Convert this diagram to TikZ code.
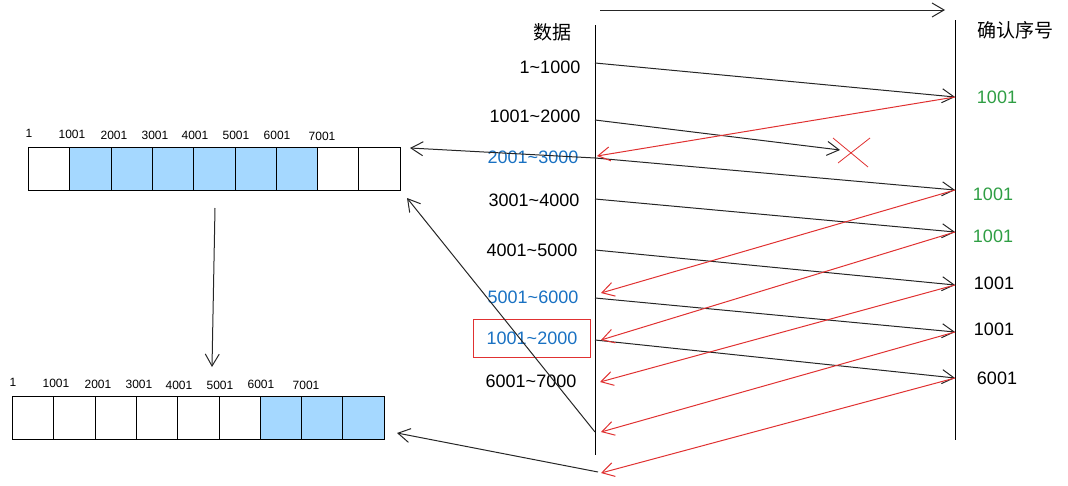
\documentclass[tikz,border=0pt]{standalone}
\usepackage{fontspec}
\setmainfont{Liberation Sans}
\newfontfamily\cjk{Noto Sans CJK SC}
\usetikzlibrary{arrows.meta}
\definecolor{cblue}{HTML}{A5D8FF}
\definecolor{tblue}{HTML}{1971C2}
\definecolor{tgreen}{HTML}{2F9E44}
\definecolor{tred}{HTML}{E03131}
\begin{document}
\begin{tikzpicture}[x=1pt,y=-1pt,
 ar/.style={-{Straight Barb[length=12pt,width=14pt]},line width=1pt,black!85},
 rar/.style={-{Straight Barb[length=12pt,width=14pt]},line width=1pt,tred},
 lab/.style={font=\fontsize{18}{18}\selectfont,anchor=center},
 small/.style={font=\fontsize{12}{12}\selectfont},
 cell/.style={draw,line width=1pt,minimum width=41.3pt,minimum height=43pt,inner sep=0,anchor=north west}]
\useasboundingbox (0,0) rectangle (1068,485);
% axes
\coordinate (La) at (595,25); \coordinate (Lb) at (595,455);
\coordinate (Ra) at (955,20); \coordinate (Rb) at (955,440);
\draw[line width=1pt] (La)--(Lb); \draw[line width=1pt] (Ra)--(Rb);
\coordinate (T1) at (600,10); \coordinate (T2) at (945,10);
\draw[ar] (T1)--(T2);
\node[lab,font=\cjk\fontsize{19}{19}\selectfont] (h1) at (552,32) {数据};
\node[lab,font=\cjk\fontsize{19}{19}\selectfont] (h2) at (1015,30) {确认序号};
% left labels
\node[lab] (d1) at (550,67) {1\textasciitilde1000};
\node[lab] (d2) at (535,116) {1001\textasciitilde2000};
\node[lab,text=tblue] (d3) at (533,157) {2001\textasciitilde3000};
\node[lab] (d4) at (534,200) {3001\textasciitilde4000};
\node[lab] (d5) at (532,250) {4001\textasciitilde5000};
\node[lab,text=tblue] (d6) at (533,297) {5001\textasciitilde6000};
\node[lab,text=tblue,draw=tred,line width=0.8pt,minimum width=117pt,minimum height=38pt] (d7) at (532,338) {1001\textasciitilde2000};
\node[lab] (d8) at (531,381) {6001\textasciitilde7000};
% right labels
\node[lab,text=tgreen] (a1) at (997,97) {1001};
\node[lab,text=tgreen] (a2) at (993,194) {1001};
\node[lab,text=tgreen] (a3) at (993,236) {1001};
\node[lab] (a4) at (994,283) {1001};
\node[lab] (a5) at (994,329) {1001};
\node[lab] (a6) at (997,378) {6001};
% points
\coordinate (s1) at (595,63); \coordinate (r1) at (955,97);
\coordinate (s2) at (595,120); \coordinate (x2) at (840,150);
\coordinate (s3) at (595,158); \coordinate (r3) at (955,190);
\coordinate (s4) at (595,199); \coordinate (r4) at (955,232);
\coordinate (s5) at (595,250); \coordinate (r5) at (955,285);
\coordinate (s6) at (595,298); \coordinate (r6) at (955,332);
\coordinate (s7) at (595,340); \coordinate (r7) at (955,378);
\draw[ar] (s1)--(r1); \draw[ar] (s2)--(x2); \draw[ar] (s3)--(r3);
\draw[ar] (s4)--(r4); \draw[ar] (s5)--(r5); \draw[ar] (s6)--(r6); \draw[ar] (s7)--(r7);
\coordinate (xa) at (833,138); \coordinate (xb) at (868,167);
\coordinate (xc) at (870,138); \coordinate (xd) at (838,163);
\draw[tred,line width=0.8pt] (xa)--(xb) (xc)--(xd);
\coordinate (k1) at (597,156); \coordinate (k2) at (601,293);
\coordinate (k3) at (601,340); \coordinate (k4) at (600,382);
\coordinate (k5) at (601,432); \coordinate (k6) at (601,473);
\draw[rar] (r1)--(k1); \draw[rar] (r3)--(k2); \draw[rar] (r4)--(k3);
\draw[rar] (r5)--(k4); \draw[rar] (r6)--(k5); \draw[rar] (r7)--(k6);
% arrays
\foreach \i/\f in {0/white,1/cblue,2/cblue,3/cblue,4/cblue,5/cblue,6/cblue,7/white,8/white}
  \node[cell,fill=\f] (t\i) at (28+41.3*\i,147) {};
\foreach \i/\f in {0/white,1/white,2/white,3/white,4/white,5/white,6/cblue,7/cblue,8/cblue}
  \node[cell,fill=\f] (b\i) at (12+41.3*\i,396) {};
\node[small] (tl0) at (29,133) {1}; \node[small] (tl1) at (72,134) {1001};
\node[small] (tl2) at (114,135) {2001}; \node[small] (tl3) at (155,135) {3001};
\node[small] (tl4) at (195,135) {4001}; \node[small] (tl5) at (236,135) {5001};
\node[small] (tl6) at (277,135) {6001}; \node[small] (tl7) at (322,136) {7001};
\node[small] (bl0) at (13,382) {1}; \node[small] (bl1) at (56,383) {1001};
\node[small] (bl2) at (98,384) {2001}; \node[small] (bl3) at (139,384) {3001};
\node[small] (bl4) at (179,385) {4001}; \node[small] (bl5) at (220,385) {5001};
\node[small] (bl6) at (261,384) {6001}; \node[small] (bl7) at (306,385) {7001};
% cross arrows
\coordinate (m1) at (410,148); \draw[ar] (s3)--(m1);
\coordinate (m2) at (595,432); \coordinate (m3) at (407,198); \draw[ar] (m2)--(m3);
\coordinate (m4) at (598,472); \coordinate (m5) at (397,433); \draw[ar] (m4)--(m5);
\coordinate (v1) at (215,208); \coordinate (v2) at (212,367); \draw[ar] (v1)--(v2);
\end{tikzpicture}
\end{document}
